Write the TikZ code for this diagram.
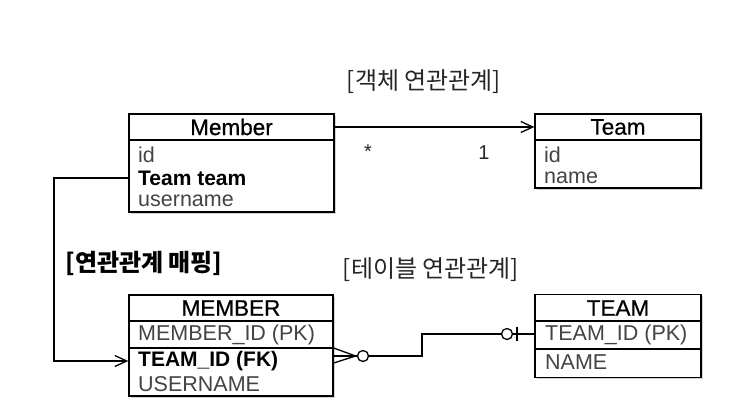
\documentclass[tikz,border=0pt]{standalone}
\usepackage{fontspec}
\setmainfont{Liberation Sans}
\newfontfamily\kr{Noto Sans CJK KR}
\newfontfamily\hdrfont[FakeBold=0.6]{Liberation Sans}
\usetikzlibrary{arrows.meta,shadows}
\definecolor{rowgray}{HTML}{444444}
\begin{document}
\begin{tikzpicture}[x=1pt,y=-1pt,
  box/.style={draw=black, line width=1.3pt, fill=white, inner sep=0pt,
    drop shadow={shadow xshift=1.5pt, shadow yshift=-1.8pt, opacity=0.35}},
  sep/.style={draw=black, line width=1.2pt},
  hdr/.style={font=\hdrfont\fontsize{22.5}{26}\selectfont, text=black, inner sep=0pt},
  rowtxt/.style={font=\fontsize{21.5}{24}\selectfont, text=rowgray, inner sep=0pt, anchor=west},
  rowbold/.style={font=\fontsize{21}{24}\selectfont\bfseries, text=black, inner sep=0pt, anchor=west},
  title/.style={font=\kr\fontsize{24}{28}\selectfont, text=black!85, inner sep=0pt},
  lbl/.style={font=\fontsize{20}{23}\selectfont, text=black!85, inner sep=0pt},
  conn/.style={draw=black, line width=1.3pt},
  arr/.style={conn, -{Straight Barb[length=12pt, width=11pt, line width=1.3pt]}},
  dot/.style={circle, draw=black, line width=1.3pt, fill=white, minimum size=11pt, inner sep=0pt}
]
\useasboundingbox (0,0) rectangle (750,402);

% ---------- Object model ----------
\node[title] (t1) at (424,82) {[객체 연관관계]};

\node[box, minimum width=205pt, minimum height=98pt] (Mem) at (231.5,163) {};
\coordinate (memsep) at (129,140);
\draw[sep] (memsep) -- (Mem.east |- memsep);
\node[hdr] (MemH) at (231.5,127) {Member};
\node[rowtxt] (MemId) at (138,155) {id};
\node[rowbold] (MemTeam) at (138,178) {Team team};
\node[rowtxt] (MemUser) at (138,201) {username};

\node[box, minimum width=166pt, minimum height=74pt] (Team) at (618,151) {};
\coordinate (teamsep) at (535,140);
\draw[sep] (teamsep) -- (Team.east |- teamsep);
\node[hdr] (TeamH) at (618,127) {Team};
\node[rowtxt] (TeamId) at (544,155) {id};
\node[rowtxt] (TeamName) at (544,178) {name};

\coordinate (arry) at (0,127);
\draw[arr] (Mem.east |- arry) -- (Team.west |- arry);
\node[lbl] (star) at (368,152) {*};
\node[lbl] (one) at (484,153) {1};

% ---------- mapping ----------
\node[title, font=\kr\bfseries\fontsize{24}{28}\selectfont, text=black] (t2) at (144,263) {[연관관계 매핑]};
\node[title] (t3) at (431,270) {[테이블 연관관계]};

% ---------- Table model ----------
\node[box, minimum width=204pt, minimum height=101pt] (MEM) at (231,345.5) {};
\coordinate (MEMs1) at (129,321);
\coordinate (MEMs2) at (129,348);
\draw[sep] (MEMs1) -- (MEM.east |- MEMs1);
\draw[sep] (MEMs2) -- (MEM.east |- MEMs2);
\node[hdr] (MEMH) at (231,308) {MEMBER};
\node[rowtxt] (MEMId) at (138,335) {MEMBER\_ID (PK)};
\node[rowbold] (MEMTeam) at (138,361) {TEAM\_ID (FK)};
\node[rowtxt] (MEMUser) at (138,384) {USERNAME};

\node[box, minimum width=166pt, minimum height=83pt] (TEAM) at (618,336) {};
\coordinate (TEAMs1) at (535,321);
\coordinate (TEAMs2) at (535,349);
\draw[sep] (TEAMs1) -- (TEAM.east |- TEAMs1);
\draw[sep] (TEAMs2) -- (TEAM.east |- TEAMs2);
\node[hdr] (TEAMH) at (618,308) {TEAM};
\node[rowtxt] (TEAMId) at (545,335) {TEAM\_ID (PK)};
\node[rowtxt] (TEAMName) at (545,362) {NAME};

% ---------- left mapping connector ----------
\coordinate (lc) at (54,178);
\draw[arr] (Mem.west |- lc) -- (lc) |- (MEM.west |- MEMTeam.west);

% ---------- table connector ----------
\coordinate (cfy) at (0,356);
\node[dot] (cA) at (363,356) {};
\node[dot] (cB) at (507,334) {};
\coordinate (k1) at (422,356);
\coordinate (k2) at (422,334);
\draw[conn] (MEM.east |- cfy) ++(0,-8) -- ++(22,8) -- ++(-22,7);
\draw[conn] (MEM.east |- cfy) -- (cA.west);
\draw[conn] (cA.east) -- (k1) -- (k2) -- (cB.west);
\draw[conn] (cB.east) -- (TEAM.west |- cB);
\coordinate (bar) at (517,334);
\draw[conn] (bar) ++(0,-7) -- ++(0,14);
\end{tikzpicture}
\end{document}
